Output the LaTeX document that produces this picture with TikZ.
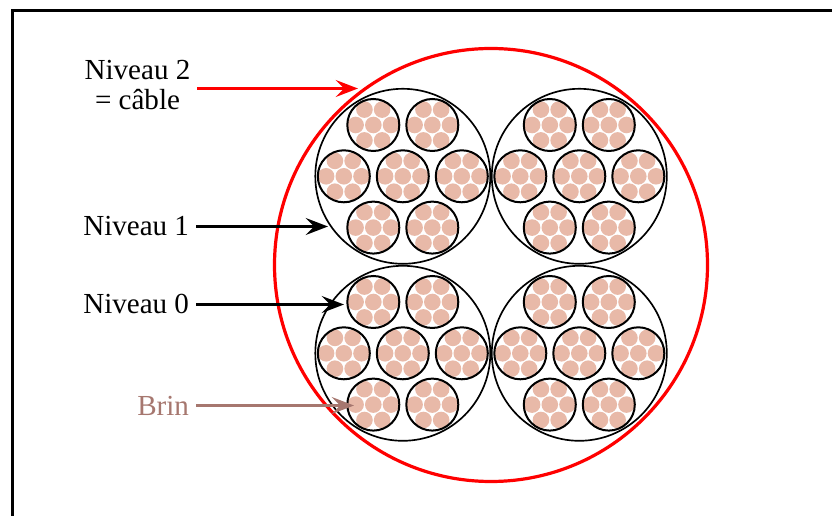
\documentclass[tikz,border=0pt]{standalone}
\usepackage{fontspec}
\setmainfont{Liberation Serif}
\usetikzlibrary{arrows.meta}
\definecolor{strandc}{HTML}{E8B9A8}
\definecolor{brinc}{HTML}{A6776F}
\definecolor{redc}{HTML}{FF0000}
\tikzset{
  lab/.style={inner sep=0pt,outer xsep=5.25pt,outer ysep=0pt,font=\fontsize{21.8}{21.9}\selectfont,text=black},
  pointer/.style={line width=2.6pt,-{Stealth[length=16.5pt,width=12.5pt,inset=6pt]}},
  frameline/.style={line width=1.9pt,draw=black},
  level one/.style={line width=1.25pt,draw=black},
  level zero/.style={line width=1.5pt,draw=black},
  cable/.style={line width=2.4pt,draw=redc},
  strand/.style={fill=strandc,draw=none}
}
\begin{document}
\begin{tikzpicture}[x=0.75pt,y=-0.75pt]
\useasboundingbox (0,0) rectangle (832,516);
\clip (0,0) rectangle (832,516);
\draw[frameline] (12.5,540) -- (12.5,10.5) -- (860,10.5);
\foreach \cx/\cy in {402.8/176.3,579.3/176.3,402.8/353.3,579.3/353.3}{
  \draw[level one] (\cx,\cy) circle[radius=87.5];
  \foreach \dx/\dy in {-29.5/-51.3,29.5/-51.3,-59/0,0/0,59/0,-29.5/51.3,29.5/51.3}{
    \begin{scope}[shift={(\cx+\dx,\cy+\dy)}]
      \foreach \sx/\sy in {-8.85/-15.4,8.85/-15.4,-17.7/0,0/0,17.7/0,-8.85/15.4,8.85/15.4}{
        \fill[strand] (\sx,\sy) circle[radius=8.3];
      }
      \draw[level zero] (0,0) circle[radius=26];
    \end{scope}
  }
}
\draw[cable] (491,265) circle[radius=216.5];
\coordinate (tipA) at (358,88.5);
\coordinate (tipB) at (328,226.5);
\coordinate (tipC) at (344,304.5);
\coordinate (tipD) at (354,405.5);
\node[lab,align=center,anchor=center] (nA) at (137.5,85) {Niveau 2\\= câble};
\node[lab,anchor=base east] (nB) at (196,235.5) {Niveau 1};
\node[lab,anchor=base east] (nC) at (196,313.5) {Niveau 0};
\node[lab,anchor=base east,text=brinc] (nD) at (196,415.5) {Brin};
\draw[pointer,redc] (nA.east |- tipA) -- (tipA);
\draw[pointer,black] (nB.east |- tipB) -- (tipB);
\draw[pointer,black] (nC.east |- tipC) -- (tipC);
\draw[pointer,brinc] (nD.east |- tipD) -- (tipD);
\end{tikzpicture}
\end{document}
